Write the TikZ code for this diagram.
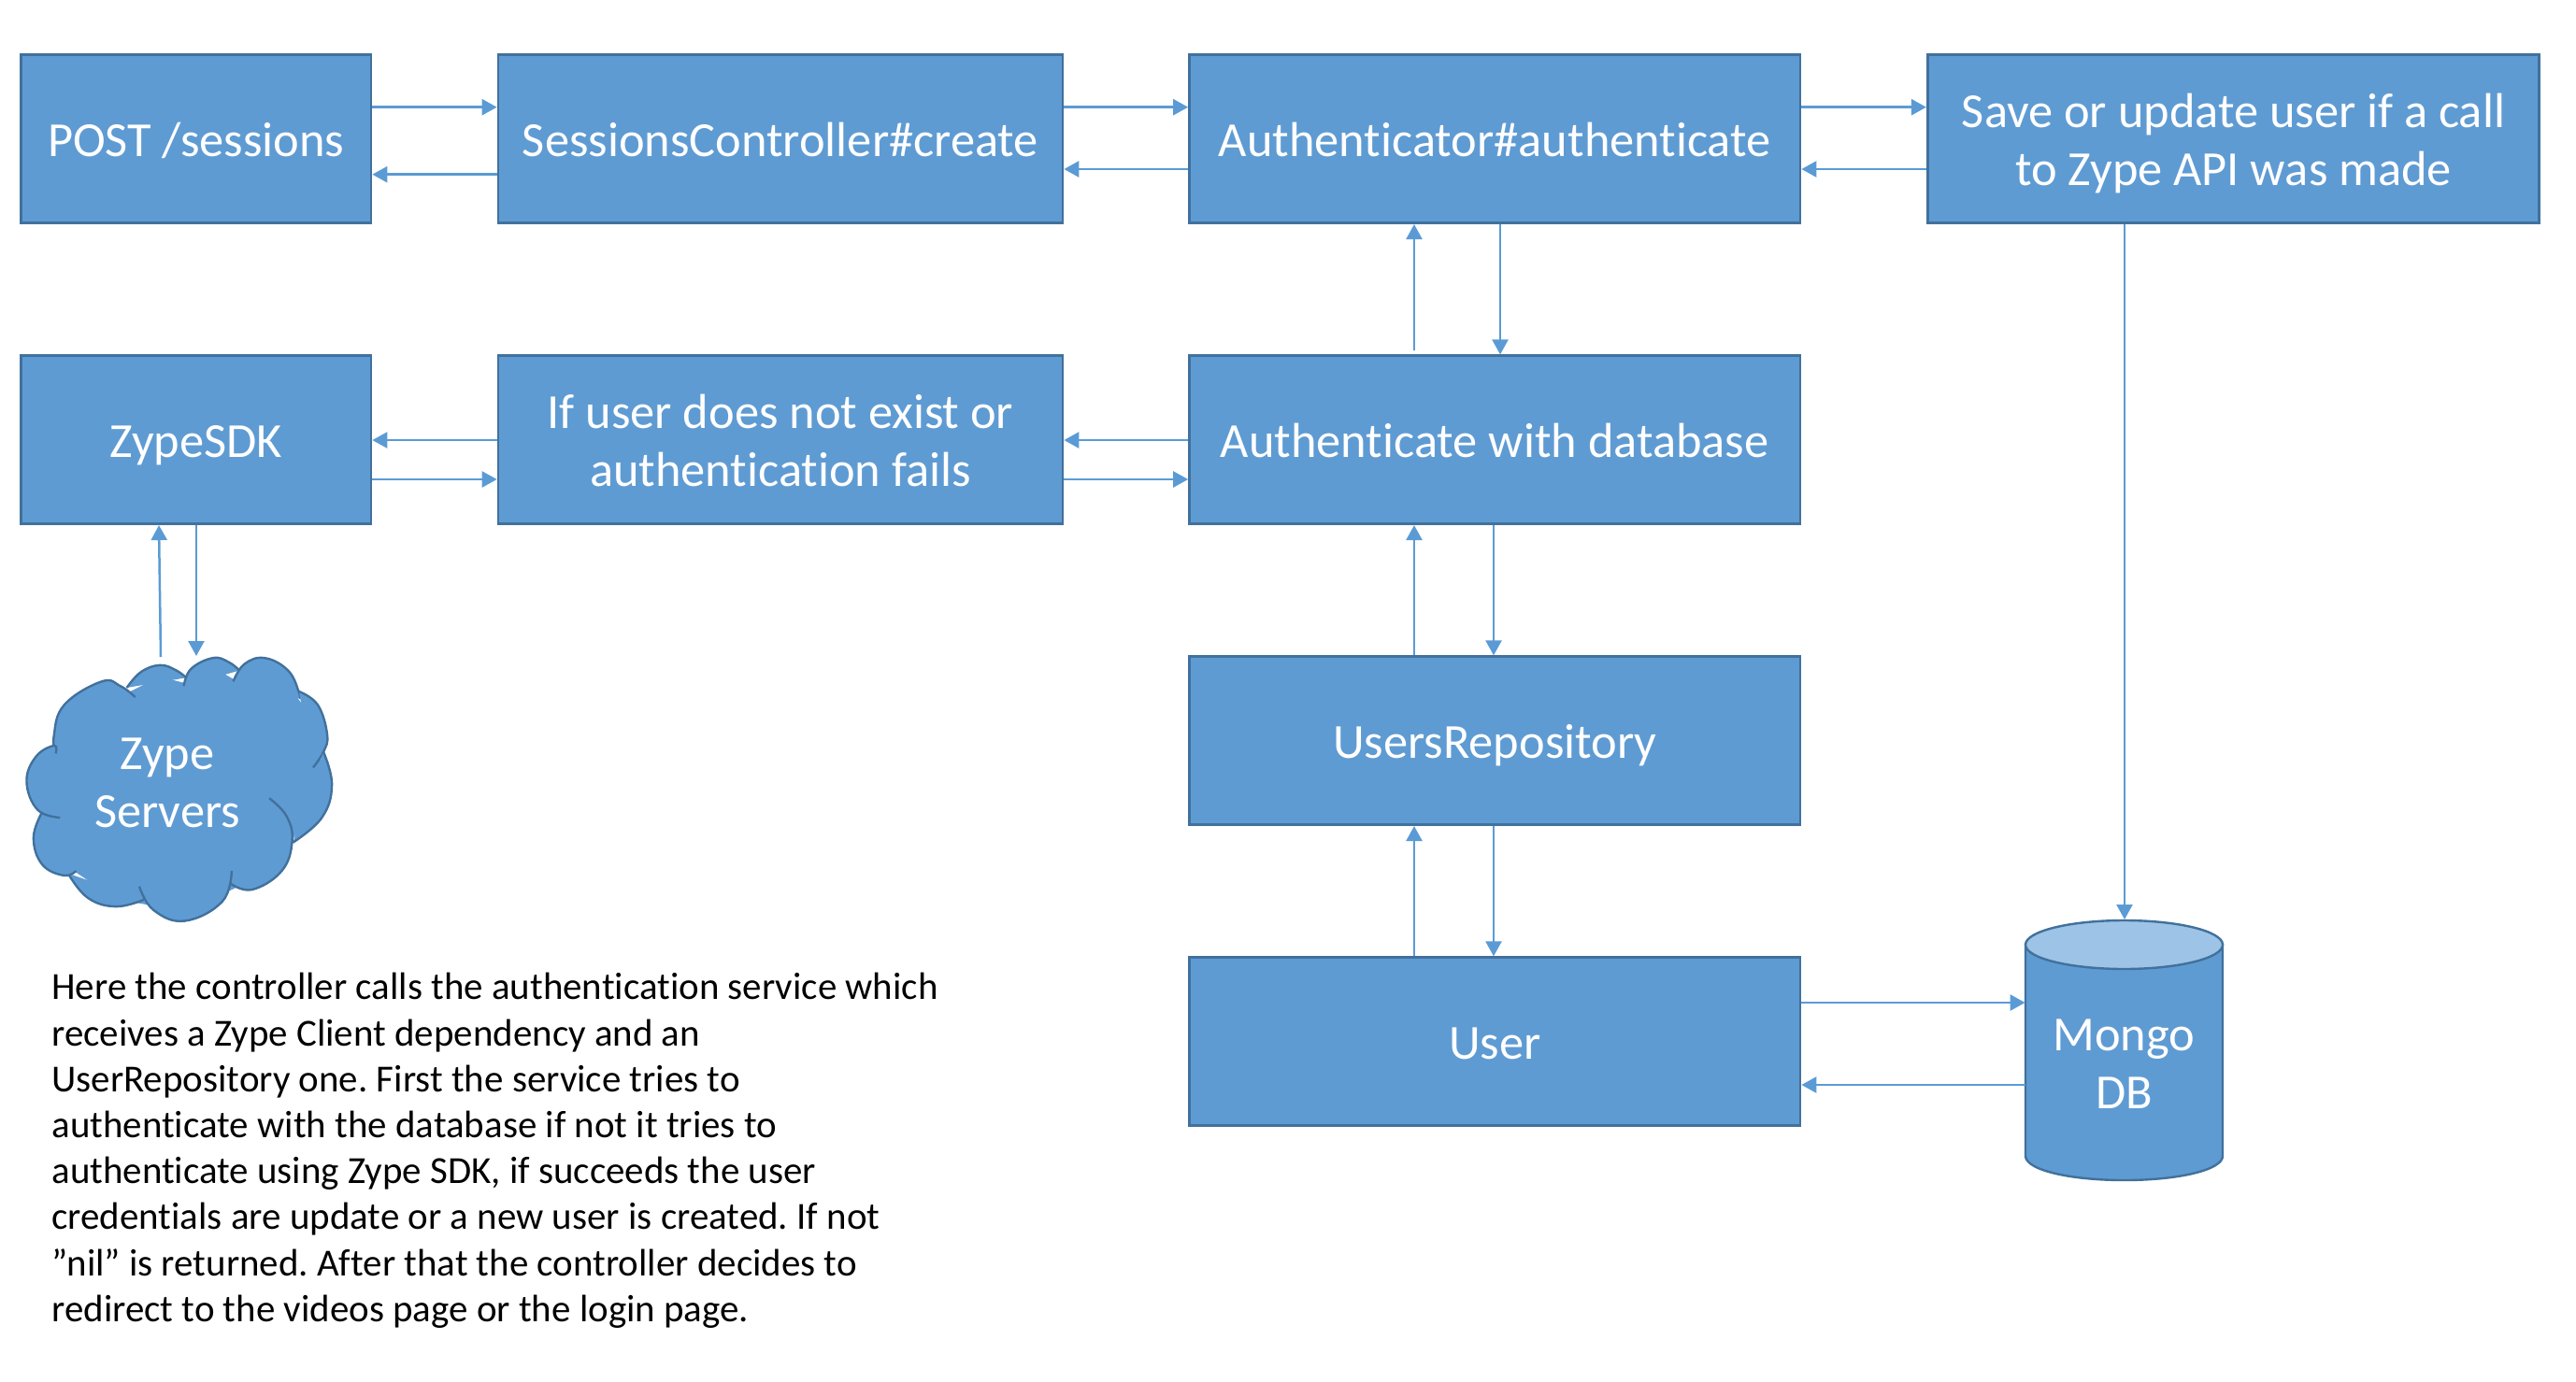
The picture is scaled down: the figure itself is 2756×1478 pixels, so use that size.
\documentclass[tikz,border=0pt]{standalone}
\usepackage{fontspec}
\setmainfont{Carlito}[Ligatures=NoCommon]
\frenchspacing
\usetikzlibrary{arrows.meta}
\definecolor{bfill}{HTML}{5F9BD3}
\definecolor{bline}{HTML}{41719C}
\definecolor{btop}{HTML}{9DC3E6}
\definecolor{barrow}{HTML}{5B9BD5}
\newcommand{\cloudbump}[1]{%
  \fill[bfill] plot[smooth,tension=0.7] coordinates {#1} -- cycle;
  \draw[edge] plot[smooth,tension=0.7] coordinates {#1};
}
\tikzset{
  x=0.5pt,y=-0.5pt,
  box/.style={draw=bline,fill=bfill,line width=1.35pt,inner sep=0pt,text=white,align=center,
    minimum height=90pt,font=\fontsize{26.2}{31}\selectfont},
  one/.style={text height=18.5pt,text depth=0pt},
  two/.style={text height=49.5pt,text depth=0pt},
  wa/.style={box,minimum width=187.25pt},
  wb/.style={box,minimum width=302pt},
  wc/.style={box,minimum width=326.75pt},
  wd/.style={box,minimum width=327.25pt},
  plain/.style={inner sep=0pt,text=white,align=center,font=\fontsize{26.2}{31}\selectfont},
  arr/.style={draw=barrow,line width=1.25pt,-{Triangle[length=8pt,width=8.5pt]},shorten >=0pt},
  edge/.style={draw=bline,line width=1.2pt},
}
\begin{document}
\begin{tikzpicture}
\useasboundingbox (0,0) rectangle (2756,1478);
% row boxes
\node[wa,one] (post) at (209.75,148.7) {POST /sessions};
\node[wb,one] (ctrl) at (835,148.7) {SessionsController\#create};
\node[wc,one] (auth) at (1599.25,148.7) {Authenticator\#authenticate};
\node[wd,two] (save) at (2389.5,148.7) {Save or update user if a call\\to Zype API was made};
\node[wa,one] (zsdk) at (209.75,470.7) {ZypeSDK};
\node[wb,two] (fail) at (835,470.7) {If user does not exist or\\authentication fails};
\node[wc,one] (adb) at (1599.25,470.7) {Authenticate with database};
\node[wc,one] (repo) at (1599.25,792.7) {UsersRepository};
\node[wc,one] (user) at (1599.25,1114.7) {User};
% cloud
\begin{scope}[shift={(0,540)},x=0.1675pt,y=-0.1675pt]
  \fill[bfill] (178,795)--(200,650)--(330,600)--(410,600)--(510,550)--(590,570)--(680,520)--(750,560)--(850,520)--(945,610)--(1010,700)--(1020,800)--(1040,900)--(935,1070)--(805,1200)--(590,1300)--(370,1260)--(205,1150)--(133,985)--(120,880)--cycle;
  \cloudbump{(178,795)(172,740)(205,640)(325,565)(385,580)(432,615)}
  \cloudbump{(405,585)(450,535)(510,513)(560,528)(595,553)}
  \cloudbump{(587,580)(610,525)(680,490)(730,503)(765,530)}
  \cloudbump{(745,565)(780,510)(845,490)(920,530)(955,600)(957,620)}
  \cloudbump{(955,597)(1015,640)(1045,735)(1033,790)(1000,840)}
  \cloudbump{(1033,790)(1060,895)(1028,1000)(935,1080)}
  \cloudbump{(860,938)(915,995)(933,1075)(900,1170)(805,1230)(735,1210)}
  \cloudbump{(740,1170)(710,1268)(590,1330)(490,1295)(445,1220)}
  \cloudbump{(460,1262)(370,1284)(280,1256)(217,1178)}
  \cloudbump{(243,1170)(205,1185)(135,1150)(107,1065)(133,985)}
  \cloudbump{(192,1000)(120,975)(85,885)(115,805)(173,770)(178,795)}
\end{scope}
\node[plain] (cloud) at (179,838) {Zype\\Servers};
\coordinate (cloudtopa) at (172,703);
\coordinate (cloudtopb) at (210,702);
% cylinder
\draw[draw=bline,fill=bfill,line width=1.2pt] (2167,1011) -- (2167,1237) .. controls (2167,1252) and (2214,1263) .. (2272.5,1263) .. controls (2331,1263) and (2378,1252) .. (2378,1237) -- (2378,1011) -- cycle;
\draw[draw=bline,fill=btop,line width=1.2pt] (2272.5,1011) ellipse [x radius=52.75pt,y radius=13pt];
\node[plain,minimum width=105.5pt,minimum height=120pt] (mongo) at (2272.5,1139) {Mongo\\DB};
\coordinate (mongotop) at (2273,984);
\coordinate (adbgap) at (1513,375);
% connectors row 1
\draw[arr] (post.east |- 0,114.7) -- (ctrl.west |- 0,114.7);
\draw[arr] (ctrl.west |- 0,186.7) -- (post.east |- 0,186.7);
\draw[arr] (ctrl.east |- 0,114.7) -- (auth.west |- 0,114.7);
\draw[arr] (auth.west |- 0,181) -- (ctrl.east |- 0,181);
\draw[arr] (auth.east |- 0,114.7) -- (save.west |- 0,114.7);
\draw[arr] (save.west |- 0,181) -- (auth.east |- 0,181);
% connectors row 2
\draw[arr] (fail.west |- 0,471) -- (zsdk.east |- 0,471);
\draw[arr] (zsdk.east |- 0,513) -- (fail.west |- 0,513);
\draw[arr] (adb.west |- 0,471) -- (fail.east |- 0,471);
\draw[arr] (fail.east |- 0,513) -- (adb.west |- 0,513);
% vertical
\draw[arr] (adbgap) -- (1513,0 |- auth.south);
\draw[arr] (1605,0 |- auth.south) -- (1605,0 |- adb.north);
\draw[arr] (1513,0 |- repo.north) -- (1513,0 |- adb.south);
\draw[arr] (1598,0 |- adb.south) -- (1598,0 |- repo.north);
\draw[arr] (1513,0 |- user.north) -- (1513,0 |- repo.south);
\draw[arr] (1598,0 |- repo.south) -- (1598,0 |- user.north);
\draw[arr] (cloudtopa) -- (170,0 |- zsdk.south);
\draw[arr] (210,0 |- zsdk.south) -- (cloudtopb);
\draw[arr] (2273,0 |- save.south) -- (mongotop);
\draw[arr] (user.east |- 0,1073) -- (mongo.west |- 0,1073);
\draw[arr] (mongo.west |- 0,1161) -- (user.east |- 0,1161);
% description
\node[inner sep=0pt,anchor=north west,align=left,text=black,font=\fontsize{20.47}{24.6}\selectfont] (desc) at (55,1041) {Here the controller calls the authentication service which\\receives a Zype Client dependency and an\\UserRepository one. First the service tries to\\authenticate with the database if not it tries to\\authenticate using Zype SDK, if succeeds the user\\credentials are update or a new user is created. If not\\”nil” is returned. After that the controller decides to\\redirect to the videos page or the login page.};
\end{tikzpicture}
\end{document}
